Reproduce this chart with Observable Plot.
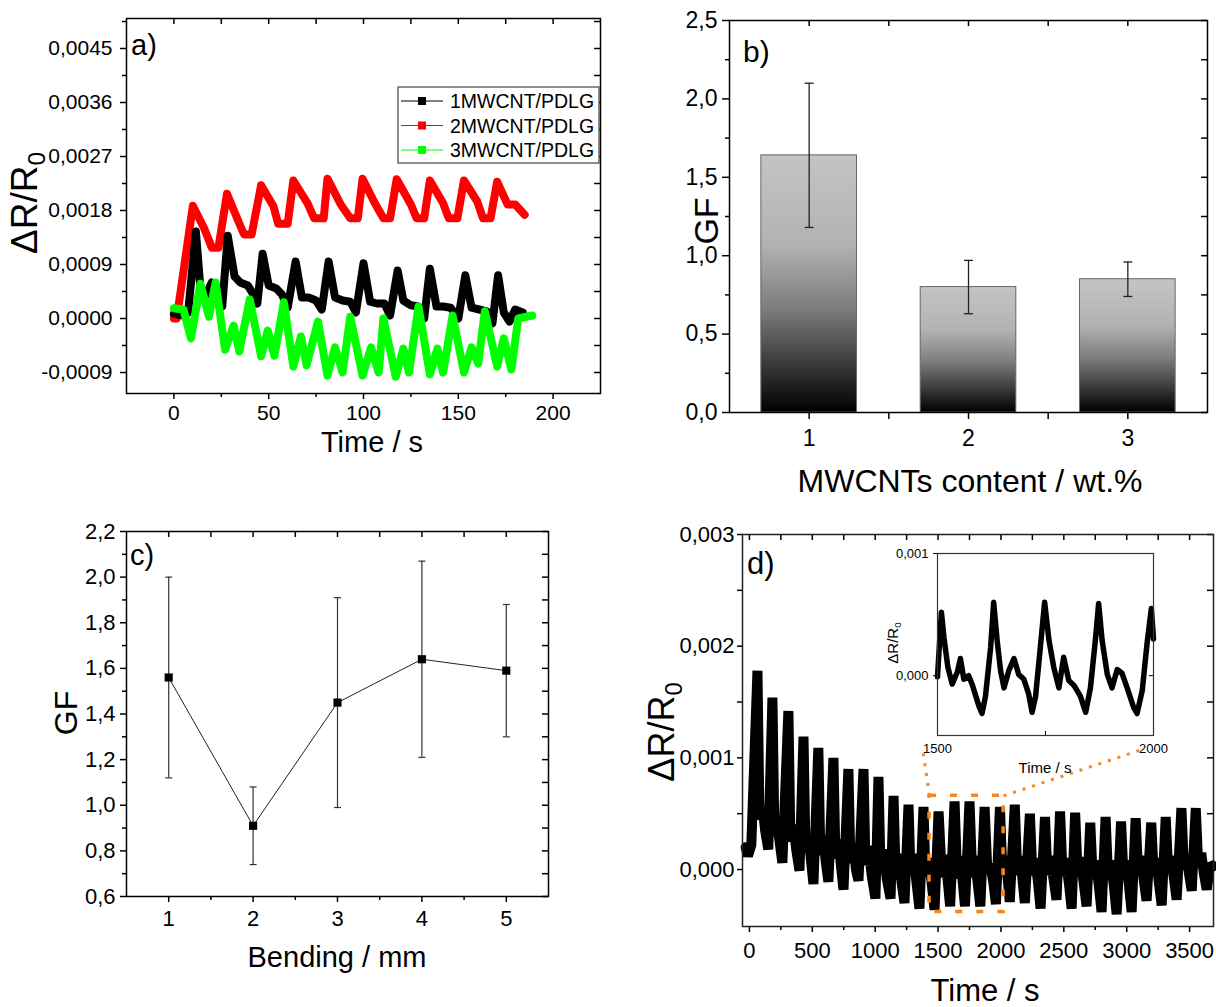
<!DOCTYPE html>
<html><head><meta charset="utf-8">
<script src="https://cdn.jsdelivr.net/npm/d3@7"></script>
<script src="https://cdn.jsdelivr.net/npm/@observablehq/plot@0.6"></script>
<style>
body{margin:0;background:#fff;}
#root{position:relative;width:1216px;height:1007px;overflow:hidden;background:#fff;}
</style></head><body><div id="root"></div><script>
// ---------------- DATA ----------------
// Panel a
const aSeries = ["1MWCNT/PDLG", "2MWCNT/PDLG", "3MWCNT/PDLG"];
const aColors = ["#000000", "#ff0000", "#00ff00"];
const aT1 = [0,5,7.5,11.6,14,17,20,23,25.5,28.4,32,35,39,42,44,46.8,50,54,57,60,64.2,67.5,71,75,78,81.6,85,89,93,96,100,103.5,107,111,114,118,121,125,129,132,135,138.5,142,146,150,153.7,157,161,165,168,171,174,177,180,184];
const aV1 = [0.00008,0.00005,0.0001,0.00145,0.0005,0.0004,0.0006,0.00035,0.0002,0.00138,0.0007,0.0006,0.00055,0.0004,0.00025,0.00108,0.00055,0.0005,0.0004,0.00018,0.00095,0.00035,0.00035,0.0003,0.00015,0.00095,0.00035,0.0003,0.00028,0.0001,0.00092,0.00028,0.00025,0.00025,0.00005,0.0008,0.0003,0.00022,0.0002,0.0,0.00083,0.0002,0.0002,0.00018,0.0,0.00072,0.00018,0.00015,0.00012,-0.00008,0.00072,0.0001,-0.00005,0.00015,0.0001];
const aT2 = [0,1.5,10,16,20,23.5,28,34,37,41,46,52.5,55,60,63,70.5,74,79,81,88,93,97,99.5,106,110.5,114,117.5,125,128,132,135,142,145,149.5,153,160,163,167,170.5,176,180,185];
const aV2 = [0,0,0.00188,0.0015,0.00118,0.00118,0.00208,0.00162,0.0014,0.0014,0.00222,0.00187,0.00158,0.00158,0.0023,0.00192,0.00167,0.00167,0.00233,0.0019,0.00167,0.00167,0.00233,0.00192,0.00167,0.00167,0.00232,0.0019,0.00167,0.00167,0.0023,0.00192,0.00167,0.00167,0.0023,0.00195,0.00167,0.00167,0.00228,0.0019,0.0019,0.00173];
const aT3 = [0,5,9,14,18.5,22,27,31.5,34.5,40,46,49.5,53,58,63,67,70,76,81,85,89,93,99.5,104,108,110.5,117,121,124,129,135,139,142,147,153,157,160.5,164,170.5,174,178,181.6,189];
const aV3 = [0.00017,0.00015,-0.00033,0.00058,0.00003,0.0006,-0.00052,-0.00012,-0.00055,0.00032,-0.00063,-0.0002,-0.00062,0.00027,-0.0008,-0.0003,-0.00078,-0.00005,-0.00095,-0.00048,-0.0009,0.00003,-0.00095,-0.00048,-0.0009,0.0,-0.00097,-0.0005,-0.0009,0.0002,-0.00093,-0.0005,-0.0009,0.00005,-0.0009,-0.00048,-0.00075,0.00012,-0.0008,-0.00033,-0.00085,0.0,0.00005];
const aXMajor = [0, 50, 100, 150, 200];
const aXMinor = [25, 75, 125, 175];
const aYMajor = [-0.0009, 0, 0.0009, 0.0018, 0.0027, 0.0036, 0.0045];
const aYMinor = [-0.00045, 0.00045, 0.00135, 0.00225, 0.00315, 0.00405, 0.00495];

// Panel b
const bCats = [1, 2, 3];
const bGF = [1.64, 0.80, 0.85];
const bLo = [1.18, 0.63, 0.74];
const bHi = [2.10, 0.97, 0.96];
const bXMinor = [1.5, 2.5];
const bYMajor = [0, 0.5, 1.0, 1.5, 2.0, 2.5];
const bYMinor = [0.25, 0.75, 1.25, 1.75, 2.25];

// Panel c
const cBend = [1, 2, 3, 4, 5];
const cGF = [1.56, 0.91, 1.45, 1.64, 1.59];
const cLo = [1.12, 0.74, 0.99, 1.21, 1.30];
const cHi = [2.00, 1.08, 1.91, 2.07, 1.88];
const cXMinor = [1.5, 2.5, 3.5, 4.5];
const cYMajor = [0.6, 0.8, 1.0, 1.2, 1.4, 1.6, 1.8, 2.0, 2.2];
const cYMinor = [0.7, 0.9, 1.1, 1.3, 1.5, 1.7, 1.9, 2.1];

// Panel d (main)
const dT = [-30,-12,15,
64,80,105,125,150, 183,199,222,240,262, 310,326,350,372,398, 430,446,470,488,509, 548,564,588,608,628,
668,684,708,728,748, 787,803,827,847,867, 907,923,947,972,1002, 1026,1042,1066,1092,1122, 1146,1162,1186,1208,1233,
1265,1281,1305,1327,1352, 1384,1400,1424,1447,1472, 1504,1530,1550,1575,1596, 1631,1652,1675,1695,1714, 1750,1772,1792,1815,1836,
1870,1892,1915,1940,1960, 1992,2012,2035,2055,2070, 2110,2130,2152,2172,2190, 2230,2250,2272,2295,2315, 2350,2370,2392,2420,2442,
2470,2490,2512,2540,2562, 2590,2610,2632,2658,2681, 2710,2730,2752,2778,2800, 2832,2852,2874,2898,2920, 2955,2975,2995,3018,3039,
3071,3091,3112,3136,3158, 3195,3215,3235,3256,3278, 3310,3330,3352,3375,3397, 3435,3455,3475,3497,3517, 3549,3569,3592,3614,3636,
3665,3690];
const dV = [0.00020,0.00012,0.00022,
0.00178,0.00045,0.00056,0.00035,0.00018, 0.00154,0.00030,0.00043,0.00025,0.00006, 0.00142,0.00025,0.00040,0.00018,-0.00001, 0.00119,0.00015,0.00031,0.00010,-0.00013, 0.00109,0.00013,0.00030,0.00006,-0.00011,
0.00100,0.00010,0.00027,0.00003,-0.00018, 0.00090,0.00006,0.00023,0.00000,-0.00010, 0.00090,0.00004,0.00021,-0.00005,-0.00026, 0.00083,0.00002,0.00018,-0.00008,-0.00026, 0.00066,-0.00002,0.00014,-0.00010,-0.00030,
0.00058,-0.00004,0.00014,-0.00010,-0.00035, 0.00056,-0.00006,0.00010,-0.00010,-0.00036, 0.00052,-0.00007,0.00013,-0.00008,-0.00033, 0.00061,-0.00008,0.00012,-0.00010,-0.00033, 0.00061,-0.00007,0.00012,-0.00012,-0.00033,
0.00056,-0.00002,0.00005,-0.00012,-0.00031, 0.00056,-0.00005,0.00012,-0.00010,-0.00029, 0.00058,-0.00005,0.00012,-0.00010,-0.00030, 0.00050,-0.00005,0.00010,-0.00012,-0.00035, 0.00047,-0.00005,0.00012,-0.00010,-0.00027,
0.00052,-0.00006,0.00010,-0.00012,-0.00035, 0.00051,-0.00005,0.00011,-0.00012,-0.00033, 0.00042,-0.00008,0.00008,-0.00014,-0.00038, 0.00047,-0.00008,0.00008,-0.00015,-0.00040, 0.00043,-0.00008,0.00008,-0.00014,-0.00038,
0.00046,-0.00004,0.00012,-0.00010,-0.00028, 0.00042,-0.00005,0.00010,-0.00012,-0.00032, 0.00047,-0.00003,0.00012,-0.00008,-0.00027, 0.00055,0.00000,0.00014,-0.00005,-0.00019, 0.00055,0.00002,0.00015,-0.00004,-0.00018,
0.00005,0.00003];
const dXMajor = [0, 500, 1000, 1500, 2000, 2500, 3000, 3500];
const dXMinor = [250, 750, 1250, 1750, 2250, 2750, 3250];
const dYMajor = [0, 0.001, 0.002, 0.003];
const dYMinor = [0.0005, 0.0015, 0.0025];
const zoomBoxT = [1432, 2021];
const zoomBoxV = [-0.00038, 0.00066];
const zoomLinkFromT = [1432, 2021];
const zoomLinkToT = [1376, 3110];
const zoomLinkToV = [0.00109, 0.00107];

// Panel d inset
const iT = [1500,1509,1515,1524,1534,1546,1553,1561,1572,1580,1596,1603,1611,1623,1630,1638,1646,1654,1665,1677,1688,1700,1711,1719,1727,1738,1748,1758,1769,1781,1792,1804,1816,1831,1843,1854,1866,1873,1881,1893,1904,1916,1927,1939,1954,1962,1974,1985,1995,2000];
const iV = [-0.00001,0.00052,0.00031,0.00007,-0.00007,0.00003,0.00014,-0.00003,0.0,-0.00007,-0.00025,-0.00031,-0.00017,0.00023,0.0006,0.00029,0.00004,-0.0001,0.00004,0.00014,0.00001,-0.00003,-0.00015,-0.0003,-0.00017,0.00023,0.0006,0.00029,0.00007,-0.0001,0.00015,-0.00004,-0.00008,-0.00017,-0.0003,-0.0001,0.00031,0.00059,0.00029,0.00001,-0.0001,0.00005,0.00002,-0.0001,-0.00026,-0.00031,-0.00012,0.00026,0.00055,0.0003];
const iXTicks = [1500, 2000];
const iXMinor = [1750];
const iYTicks = [0, 0.001];

// ---------------- HELPERS ----------------
const FONT = '"Liberation Sans", Arial, Helvetica, sans-serif';
const root = document.getElementById("root");
const fmt = n => d => (Math.abs(d) < 1e-12 ? 0 : d).toFixed(n).replace(".", ",");
const blank = () => "";
const capSymbol = {draw(ctx, size) { const r = Math.sqrt(size / Math.PI); ctx.moveTo(-r, 0); ctx.lineTo(r, 0); }};
function mount(svg, left, top) {
  svg.style.position = "absolute"; svg.style.left = left + "px"; svg.style.top = top + "px";
  svg.style.overflow = "visible"; root.appendChild(svg); return svg;
}
function addText(svg, x, y, str, size, opts = {}) {
  const t = d3.select(svg).append("text")
    .attr("x", x).attr("y", y).attr("font-size", size + "px").attr("font-family", FONT)
    .attr("text-anchor", opts.anchor || "middle").attr("fill", "black");
  if (opts.rotate) t.attr("transform", `rotate(${opts.rotate},${x},${y})`);
  if (opts.sub) {
    t.append("tspan").text(str);
    t.append("tspan").attr("font-size", (size * 0.66) + "px").attr("dy", size * 0.22).text(opts.sub);
  } else t.text(str);
  return t;
}
const style = fs => ({fontFamily: FONT, fontSize: fs + "px", background: "transparent", color: "black", overflow: "visible"});
const mirrorX = (vals, fh, len, sw = 1.5) => Plot.tickX(vals, {x: d => d, insetBottom: fh - len, stroke: "black", strokeWidth: sw});
const mirrorY = (vals, fw, len, sw = 1.5) => Plot.tickY(vals, {y: d => d, insetLeft: fw - len, stroke: "black", strokeWidth: sw});

// ---------------- PANEL A ----------------
const A = {w: 610, h: 460, l: 126, r: 10, t: 18, b: 67};
const aFW = A.w - A.l - A.r, aFH = A.h - A.t - A.b;
const aRows = [
  aT1.map((t, i) => ({t, v: aV1[i], s: aSeries[0]})),
  aT2.map((t, i) => ({t, v: aV2[i], s: aSeries[1]})),
  aT3.map((t, i) => ({t, v: aV3[i], s: aSeries[2]}))
];
const svgA = Plot.plot({
  width: A.w, height: A.h, marginLeft: A.l, marginRight: A.r, marginTop: A.t, marginBottom: A.b,
  style: style(21),
  x: {domain: [-25, 225]}, y: {domain: [-0.00125, 0.005]},
  marks: [
    Plot.line(aRows[1], {x: "t", y: "v", stroke: aColors[1], strokeWidth: 8, strokeLinejoin: "round"}),
    Plot.line(aRows[0], {x: "t", y: "v", stroke: aColors[0], strokeWidth: 8, strokeLinejoin: "round"}),
    Plot.line(aRows[2], {x: "t", y: "v", stroke: aColors[2], strokeWidth: 8, strokeLinejoin: "round"}),
    Plot.axisY(aYMajor, {tickSize: 6, tickPadding: 8, tickFormat: fmt(4), label: null, strokeWidth: 1.5}),
    Plot.axisY(aYMinor, {tickSize: 4, tickFormat: blank, label: null, strokeWidth: 1.5}),
    Plot.axisX(aXMajor, {tickSize: 6, tickPadding: 6, tickFormat: d => String(d), label: null, strokeWidth: 1.5}),
    Plot.axisX(aXMinor, {tickSize: 4, tickFormat: blank, label: null, strokeWidth: 1.5}),
    mirrorX([...aXMajor, ...aXMinor], aFH, 6),
    mirrorY([...aYMajor, ...aYMinor], aFW, 6),
    Plot.frame({stroke: "black", strokeWidth: 1.5})
  ]
});
mount(svgA, 0, 0);
addText(svgA, 131, 55, "a)", 29, {anchor: "start"});
addText(svgA, 372, 452, "Time / s", 29);
addText(svgA, 37, 203, "ΔR/R", 37, {rotate: -90, sub: "0"});
{ // legend
  const lg = d3.select(svgA).append("g").attr("text-anchor", "start");
  lg.append("rect").attr("x", 398).attr("y", 87).attr("width", 201).attr("height", 76)
    .attr("fill", "white").attr("stroke", "#444").attr("stroke-width", 1.2);
  aSeries.forEach((name, i) => {
    const cy = 101 + i * 24.5;
    lg.append("line").attr("x1", 401).attr("x2", 443).attr("y1", cy).attr("y2", cy).attr("stroke", aColors[i]).attr("stroke-width", 1.2);
    lg.append("rect").attr("x", 418).attr("y", cy - 4).attr("width", 8).attr("height", 8).attr("fill", aColors[i]);
    lg.append("text").attr("x", 450).attr("y", cy + 7).attr("text-anchor", "start")
      .attr("font-size", "19.5px").attr("font-family", FONT).attr("fill", "black").text(name);
  });
}

// ---------------- PANEL B ----------------
const B = {w: 606, h: 500, l: 119, r: 9, t: 20, b: 88};
const bFW = B.w - B.l - B.r, bFH = B.h - B.t - B.b;
const bBarHalf = 0.3;
const bData = bCats.map((c, i) => ({cat: c, gf: bGF[i], lo: bLo[i], hi: bHi[i]}));
const svgB = Plot.plot({
  width: B.w, height: B.h, marginLeft: B.l, marginRight: B.r, marginTop: B.t, marginBottom: B.b,
  style: style(23),
  x: {domain: [0.5, 3.5]}, y: {domain: [0, 2.5]},
  marks: [
    Plot.rect(bData, {x1: d => d.cat - bBarHalf, x2: d => d.cat + bBarHalf, y1: d => 0, y2: "gf", fill: "url(#barGrad)", stroke: "#666", strokeWidth: 1}),
    Plot.ruleX(bData, {x: "cat", y1: "lo", y2: "hi", stroke: "#222", strokeWidth: 1.3}),
    Plot.dot(bData, {x: "cat", y: "lo", symbol: capSymbol, r: 4.5, stroke: "#222", fill: "none", strokeWidth: 1.3}),
    Plot.dot(bData, {x: "cat", y: "hi", symbol: capSymbol, r: 4.5, stroke: "#222", fill: "none", strokeWidth: 1.3}),
    Plot.axisY(bYMajor, {tickSize: 7, tickPadding: 5, tickFormat: fmt(1), label: null, strokeWidth: 1.5}),
    Plot.axisY(bYMinor, {tickSize: 4, tickFormat: blank, label: null, strokeWidth: 1.5}),
    Plot.axisX(bCats, {tickSize: 7, tickPadding: 10, tickFormat: d => String(d), label: null, strokeWidth: 1.5}),
    Plot.axisX(bXMinor, {tickSize: 7, tickFormat: blank, label: null, strokeWidth: 1.5}),
    mirrorX([...bCats, ...bXMinor], bFH, 6),
    mirrorY([...bYMajor, ...bYMinor], bFW, 6),
    Plot.frame({stroke: "black", strokeWidth: 1.5})
  ]
});
mount(svgB, 610, 0);
{
  const defs = d3.select(svgB).insert("defs", ":first-child");
  const g = defs.append("linearGradient").attr("id", "barGrad").attr("x1", 0).attr("y1", 0).attr("x2", 0).attr("y2", 1);
  [[0, "#c4c4c4"], [0.35, "#b2b2b2"], [0.6, "#7c7c7c"], [0.82, "#383838"], [1, "#000"]]
    .forEach(([o, c]) => g.append("stop").attr("offset", o).attr("stop-color", c));
}
addText(svgB, 133, 62, "b)", 30, {anchor: "start"});
addText(svgB, 360, 492, "MWCNTs content / wt.%", 32);
addText(svgB, 108, 221, "GF", 34, {rotate: -90});

// ---------------- PANEL C ----------------
const C = {w: 560, h: 507, l: 126, r: 12, t: 31, b: 111};
const cFW = C.w - C.l - C.r, cFH = C.h - C.t - C.b;
const cData = cBend.map((b, i) => ({bend: b, gf: cGF[i], lo: cLo[i], hi: cHi[i]}));
const svgC = Plot.plot({
  width: C.w, height: C.h, marginLeft: C.l, marginRight: C.r, marginTop: C.t, marginBottom: C.b,
  style: style(22),
  x: {domain: [0.5, 5.5]}, y: {domain: [0.6, 2.2]},
  marks: [
    Plot.ruleX(cData, {x: "bend", y1: "lo", y2: "hi", stroke: "#333", strokeWidth: 1.2}),
    Plot.dot(cData, {x: "bend", y: "lo", symbol: capSymbol, r: 3.5, stroke: "#333", fill: "none", strokeWidth: 1.2}),
    Plot.dot(cData, {x: "bend", y: "hi", symbol: capSymbol, r: 3.5, stroke: "#333", fill: "none", strokeWidth: 1.2}),
    Plot.line(cData, {x: "bend", y: "gf", stroke: "#222", strokeWidth: 1}),
    Plot.dot(cData, {x: "bend", y: "gf", symbol: "square", r: 4.6, fill: "black", stroke: "none"}),
    Plot.axisY(cYMajor, {tickSize: 6, tickPadding: 5, tickFormat: fmt(1), label: null, strokeWidth: 1.5}),
    Plot.axisY(cYMinor, {tickSize: 4, tickFormat: blank, label: null, strokeWidth: 1.5}),
    Plot.axisX(cBend, {tickSize: 6, tickPadding: 8, tickFormat: d => String(d), label: null, strokeWidth: 1.5}),
    Plot.axisX(cXMinor, {tickSize: 4, tickFormat: blank, label: null, strokeWidth: 1.5}),
    mirrorX([...cBend, ...cXMinor], cFH, 6),
    mirrorY([...cYMajor, ...cYMinor], cFW, 6),
    Plot.frame({stroke: "black", strokeWidth: 1.5})
  ]
});
mount(svgC, 0, 500);
addText(svgC, 130, 65, "c)", 29, {anchor: "start"});
addText(svgC, 337, 467, "Bending / mm", 29);
addText(svgC, 77, 213, "GF", 32, {rotate: -90});

// ---------------- PANEL D ----------------
const D = {w: 606, h: 507, l: 132, r: 3, t: 34, b: 81};
const dFW = D.w - D.l - D.r, dFH = D.h - D.t - D.b;
const dRows = dT.map((t, i) => ({t, v: dV[i]}));
const boxRow = [{x1: zoomBoxT[0], x2: zoomBoxT[1], y1: zoomBoxV[0], y2: zoomBoxV[1]}];
const linkRows = zoomLinkFromT.map((t, i) => ({x1: t, y1: zoomBoxV[1], x2: zoomLinkToT[i], y2: zoomLinkToV[i]}));
const ORANGE = "#f7861e";
const svgD = Plot.plot({
  width: D.w, height: D.h, marginLeft: D.l, marginRight: D.r, marginTop: D.t, marginBottom: D.b,
  style: style(22),
  x: {domain: [-55, 3690]}, y: {domain: [-0.00051, 0.003]},
  marks: [
    Plot.line(dRows, {x: "t", y: "v", stroke: "black", strokeWidth: 10, strokeLinejoin: "bevel"}),
    Plot.rect(boxRow, {x1: "x1", x2: "x2", y1: "y1", y2: "y2", fill: "none", stroke: ORANGE, strokeWidth: 3.5, strokeDasharray: "7,14"}),
    Plot.link(linkRows, {x1: "x1", y1: "y1", x2: "x2", y2: "y2", stroke: ORANGE, strokeWidth: 3, strokeDasharray: "3,7"}),
    Plot.axisY(dYMajor, {tickSize: 5, tickPadding: 3, tickFormat: fmt(3), label: null, strokeWidth: 1.5}),
    Plot.axisY(dYMinor, {tickSize: 5, tickFormat: blank, label: null, strokeWidth: 1.5}),
    Plot.axisX(dXMajor, {tickSize: 6, tickPadding: 10, tickFormat: d => String(d), label: null, strokeWidth: 1.5}),
    Plot.axisX(dXMinor, {tickSize: 4, tickFormat: blank, label: null, strokeWidth: 1.5}),
    mirrorX([...dXMajor, ...dXMinor], dFH, 6),
    mirrorY([...dYMajor, ...dYMinor], dFW, 6),
    Plot.frame({stroke: "#222", strokeWidth: 1.5})
  ]
});
mount(svgD, 610, 500);
addText(svgD, 137, 74, "d)", 31, {anchor: "start"});
addText(svgD, 375, 501, "Time / s", 31);
addText(svgD, 64, 232, "ΔR/R", 36, {rotate: -90, sub: "0"});

// ---------------- INSET ----------------
const I = {w: 310, h: 245, l: 77, r: 17, t: 18, b: 45};
const iFW = I.w - I.l - I.r, iFH = I.h - I.t - I.b;
const iRows = iT.map((t, i) => ({t, v: iV[i]}));
const svgI = Plot.plot({
  width: I.w, height: I.h, marginLeft: I.l, marginRight: I.r, marginTop: I.t, marginBottom: I.b,
  style: style(13),
  x: {domain: [1500, 2000]}, y: {domain: [-0.00049, 0.001]},
  marks: [
    Plot.frame({fill: "white", stroke: "none"}),
    Plot.line(iRows, {x: "t", y: "v", stroke: "black", strokeWidth: 5.5, strokeLinejoin: "round"}),
    Plot.axisY(iYTicks, {tickSize: 4, tickPadding: 5, tickFormat: fmt(3), label: null, strokeWidth: 1}),
    Plot.axisX(iXTicks, {tickSize: 0, tickPadding: 8, tickFormat: d => String(d), label: null}),
    Plot.tickX([...iXTicks, ...iXMinor], {x: d => d, insetTop: iFH - 4, stroke: "black", strokeWidth: 1}),
    mirrorY(iYTicks, iFW, 4, 1),
    Plot.frame({stroke: "#333", strokeWidth: 1.2})
  ]
});
mount(svgI, 860, 535);
addText(svgI, 38, 108, "ΔR/R", 15, {rotate: -90, sub: "0"});
addText(svgI, 185, 238, "Time / s", 15);
</script></body></html>
